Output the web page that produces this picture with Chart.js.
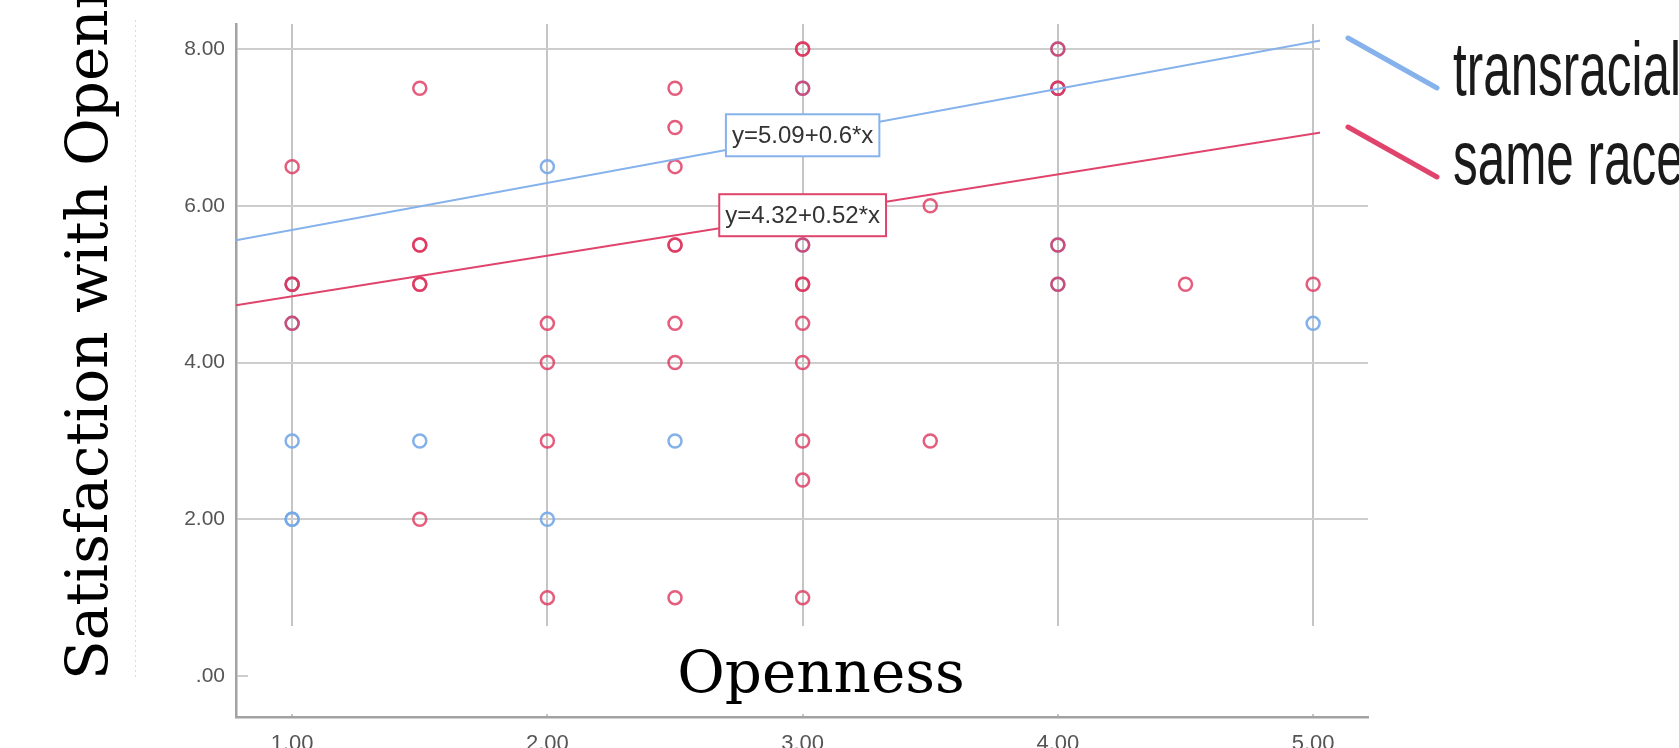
<!DOCTYPE html>
<html>
<head>
<meta charset="utf-8">
<script src="https://cdn.jsdelivr.net/npm/chart.js@4/dist/chart.umd.min.js"></script>
<style>
  html, body { margin: 0; padding: 0; background: #fff; overflow: hidden; }
  #wrap { width: 1679px; height: 775px; }
</style>
</head>
<body>
<div id="wrap"><canvas id="scatterChart" width="1679" height="775"></canvas></div>
<script>
// Openness (x) vs satisfaction (y)
const sameRaceX = [1, 1, 1, 1,
    1.5, 1.5, 1.5, 1.5, 1.5, 1.5,
    2, 2, 2, 2,
    2.5, 2.5, 2.5, 2.5, 2.5, 2.5, 2.5, 2.5,
    3, 3, 3, 3, 3, 3, 3, 3, 3, 3, 3,
    3.5, 3.5,
    4, 4, 4, 4, 4,
    4.5, 5];
const sameRaceY = [6.5, 5, 5, 4.5,
    7.5, 5.5, 5.5, 5, 5, 2,
    4.5, 4, 3, 1,
    7.5, 7, 6.5, 5.5, 5.5, 4.5, 4, 1,
    8, 8, 7.5, 5.5, 5, 5, 4.5, 4, 3, 2.5, 1,
    6, 3,
    8, 7.5, 7.5, 5.5, 5,
    5, 5];

const transracialX = [1, 1, 1, 1, 1, 1.5, 2, 2, 2.5, 3, 3, 4, 4, 4, 4, 5];
const transracialY = [5, 4.5, 3, 2, 2, 3, 6.5, 2, 3, 7.5, 5.5, 8, 7.5, 5.5, 5, 4.5];

// fit lines, end points at the plot edges
const fitX = [0.78, 5.215];
const transracialFitY = [5.56, 8.22];
const sameRaceFitY = [4.73, 7.03];

const fitLabels = ['y=5.09+0.6*x', 'y=4.32+0.52*x'];
const fitLabelX = [3.0, 3.0];
const fitLabelY = [6.9, 5.88];

const xTicks = [1, 2, 3, 4, 5];
const xTickLabels = ['1.00', '2.00', '3.00', '4.00', '5.00'];
const yTicks = [0, 2, 4, 6, 8];
const yTickLabels = ['.00', '2.00', '4.00', '6.00', '8.00'];

const legendLabels = ['transracial', 'same race'];

const blue = 'rgba(118,168,232,0.9)';
const red = 'rgba(221,52,92,0.8)';
const blueLine = '#86b2ec';
const redLine = '#e0446c';

function toPoints(xs, ys) {
    return xs.map((x, i) => ({ x: x, y: ys[i] }));
}

// white boxes, labels, legend and titles drawn over the plot
const overlayPlugin = {
    id: 'overlay',
    afterDatasetsDraw(chart) {
        const ctx = chart.ctx;
        const xs = chart.scales.x;
        const ys = chart.scales.y;
        ctx.save();

        // equation boxes
        const boxColors = [blueLine, redLine];
        ctx.font = '24px "Liberation Sans", Arial, sans-serif';
        ctx.textAlign = 'center';
        ctx.textBaseline = 'middle';
        fitLabels.forEach((txt, i) => {
            const cx = xs.getPixelForValue(fitLabelX[i]);
            const cy = ys.getPixelForValue(fitLabelY[i]);
            const w = ctx.measureText(txt).width + 12;
            const h = 42;
            ctx.fillStyle = '#fff';
            ctx.fillRect(cx - w / 2, cy - h / 2, w, h);
            ctx.strokeStyle = boxColors[i];
            ctx.lineWidth = 2;
            ctx.strokeRect(cx - w / 2, cy - h / 2, w, h);
            ctx.fillStyle = '#333';
            ctx.fillText(txt, cx, cy + 1);
        });

        // text box of the x title covers the bottom of the grid
        ctx.fillStyle = '#fff';
        ctx.fillRect(248, 626, 1130, 88);
        ctx.fillStyle = '#000';
        ctx.font = '58px "DejaVu Serif", serif';
        ctx.textAlign = 'center';
        ctx.textBaseline = 'alphabetic';
        ctx.fillText('Openness', 821, 692);

        // y title, cut at the top
        ctx.save();
        ctx.translate(107, 680);
        ctx.rotate(-Math.PI / 2);
        ctx.textAlign = 'left';
        ctx.fillText('Satisfaction with Openness', 0, 0);
        ctx.restore();

        // dotted frame of the y title box
        ctx.strokeStyle = '#dcdcdc';
        ctx.lineWidth = 1;
        ctx.setLineDash([2, 3]);
        ctx.beginPath();
        ctx.moveTo(135.5, 20);
        ctx.lineTo(135.5, 680);
        ctx.stroke();
        ctx.setLineDash([]);

        // legend
        ctx.fillStyle = '#fff';
        ctx.fillRect(1320, 0, 359, 195);
        const legendColors = [blueLine, redLine];
        const legendTop = [38, 127];
        legendLabels.forEach((txt, i) => {
            ctx.strokeStyle = legendColors[i];
            ctx.lineWidth = 5;
            ctx.lineCap = 'round';
            ctx.beginPath();
            ctx.moveTo(1348, legendTop[i]);
            ctx.lineTo(1437, legendTop[i] + 50);
            ctx.stroke();
            ctx.save();
            ctx.translate(1453, legendTop[i] + 57);
            ctx.scale(0.65, 1);
            ctx.fillStyle = '#1a1a1a';
            ctx.font = '76px "Liberation Sans", Arial, sans-serif';
            ctx.textAlign = 'left';
            ctx.fillText(txt, 0, 0);
            ctx.restore();
        });

        ctx.restore();
    }
};

new Chart(document.getElementById('scatterChart'), {
    type: 'scatter',
    data: {
        datasets: [
            {
                label: 'transracial fit',
                type: 'line',
                data: toPoints(fitX, transracialFitY),
                borderColor: blueLine,
                borderWidth: 2,
                pointRadius: 0,
                fill: false,
                order: 0
            },
            {
                label: 'same race fit',
                type: 'line',
                data: toPoints(fitX, sameRaceFitY),
                borderColor: redLine,
                borderWidth: 2,
                pointRadius: 0,
                fill: false,
                order: 1
            },
            {
                label: 'same race',
                data: toPoints(sameRaceX, sameRaceY),
                borderColor: red,
                backgroundColor: 'rgba(0,0,0,0)',
                pointRadius: 6.5,
                borderWidth: 2.5,
                order: 2
            },
            {
                label: 'transracial',
                data: toPoints(transracialX, transracialY),
                borderColor: blue,
                backgroundColor: 'rgba(0,0,0,0)',
                pointRadius: 6.5,
                borderWidth: 2.5,
                order: 3
            }
        ]
    },
    options: {
        responsive: false,
        animation: false,
        devicePixelRatio: 1,
        layout: { padding: { left: 0, top: 24, right: 311, bottom: 0 } },
        plugins: {
            legend: { display: false },
            tooltip: { enabled: false }
        },
        scales: {
            x: {
                type: 'linear',
                min: 0.78,
                max: 5.215,
                afterFit: s => { s.height = 58; },
                afterBuildTicks: s => { s.ticks = xTicks.map(v => ({ value: v })); },
                grid: { color: '#c4c4c4', lineWidth: 2, drawTicks: false },
                border: { color: '#a2a2a2', width: 2.5 },
                ticks: {
                    padding: 14,
                    color: '#555',
                    font: { family: '"Liberation Sans", Arial, sans-serif', size: 22 },
                    callback: (v) => xTickLabels[xTicks.indexOf(v)]
                }
            },
            y: {
                type: 'linear',
                min: -0.523,
                max: 8.32,
                afterFit: s => { s.width = 236; },
                afterBuildTicks: s => { s.ticks = yTicks.map(v => ({ value: v })); },
                grid: { color: '#cdcdcd', lineWidth: 2, drawTicks: false },
                border: { color: '#a2a2a2', width: 2.5 },
                ticks: {
                    padding: 11,
                    color: '#555',
                    font: { family: '"Liberation Sans", Arial, sans-serif', size: 21 },
                    callback: (v) => yTickLabels[yTicks.indexOf(v)]
                }
            }
        }
    },
    plugins: [overlayPlugin]
});
</script>
</body>
</html>
